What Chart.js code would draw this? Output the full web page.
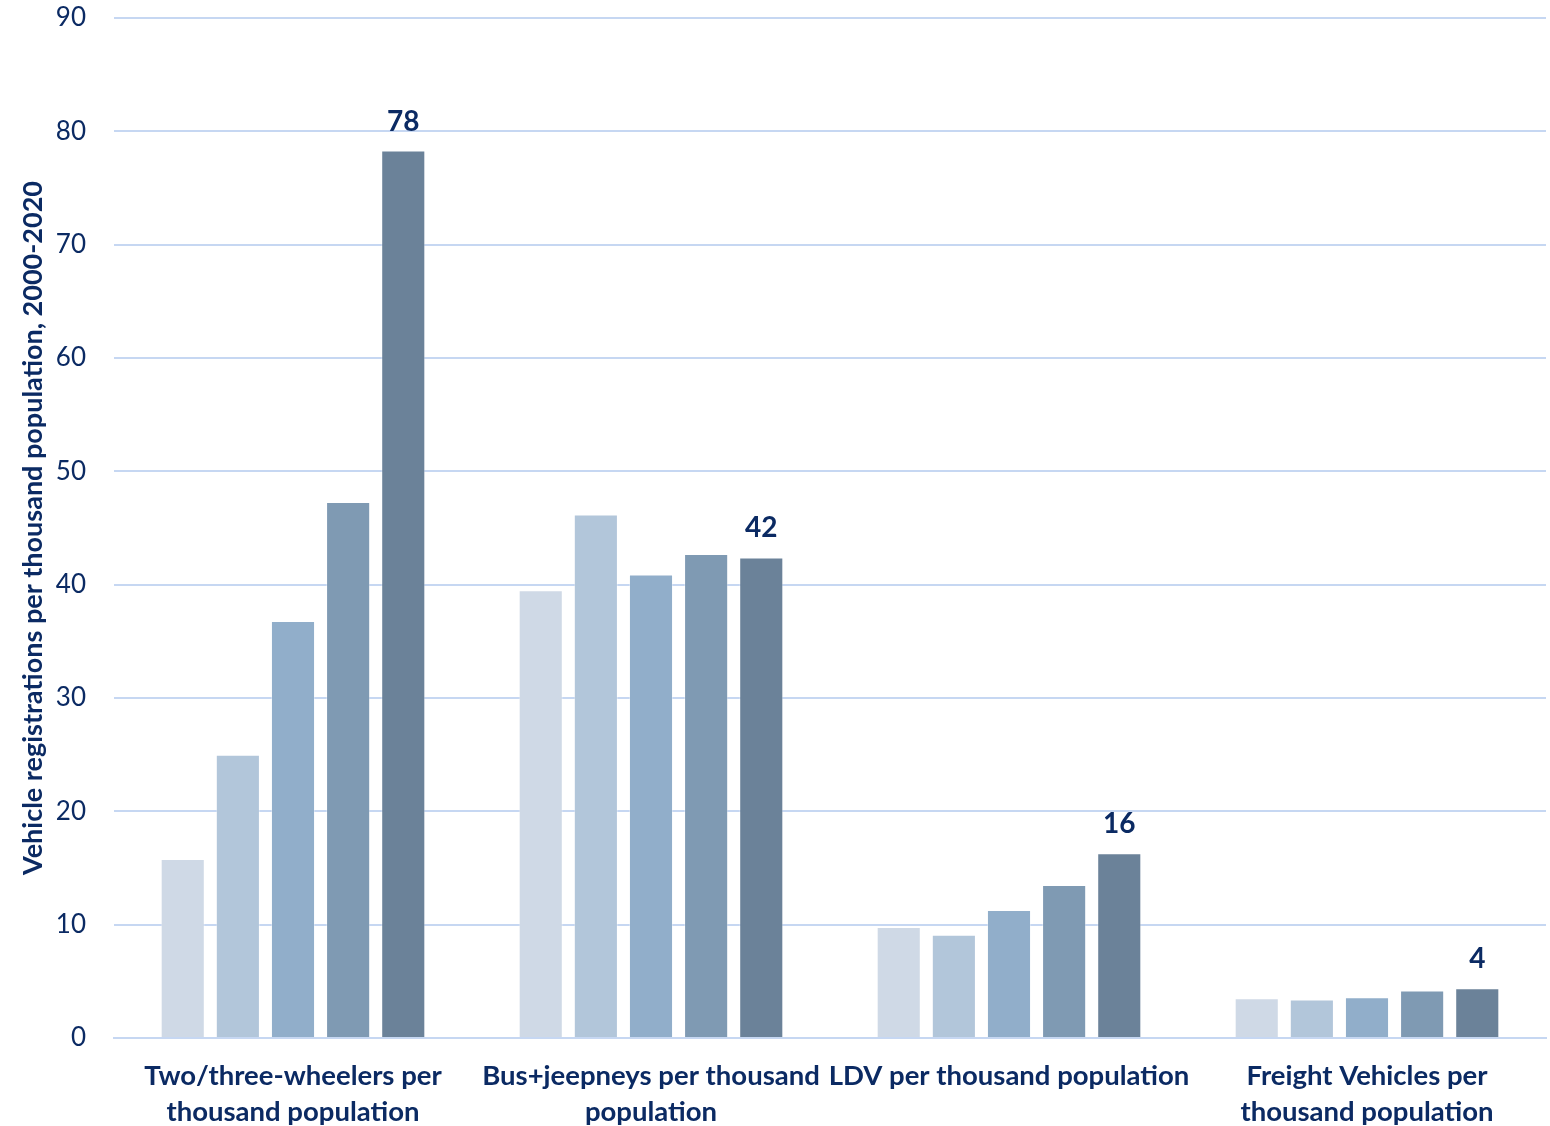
<!DOCTYPE html>
<html>
<head>
<meta charset="utf-8">
<title>Vehicle registrations per thousand population</title>
<script src="https://cdn.jsdelivr.net/npm/chart.js@4/dist/chart.umd.min.js"></script>
<style>
  html, body { margin: 0; padding: 0; background: #fff; }
  #wrap { width: 1550px; height: 1126px; }
</style>
</head>
<body>
<div id="wrap"><canvas id="regChart"></canvas></div>
<script>
const categories = [
  ["Two/three-wheelers per", "thousand population"],
  ["Bus+jeepneys per thousand", "population"],
  "LDV per thousand population",
  ["Freight Vehicles per", "thousand population"]
];
const years = ["2000", "2005", "2010", "2015", "2020"];
const v2000 = [15.8, 39.5, 9.8, 3.5];
const v2005 = [25.0, 46.2, 9.1, 3.4];
const v2010 = [36.8, 40.9, 11.3, 3.6];
const v2015 = [47.3, 42.7, 13.5, 4.2];
const v2020 = [78.3, 42.4, 16.3, 4.4];
const yTicks = [0, 10, 20, 30, 40, 50, 60, 70, 80, 90];

const navy = "#0b2a63";
const barColors = ["#cfd9e6", "#b2c6da", "#91aeca", "#7f9ab3", "#6b8299"];
const font = "Lato, 'Open Sans', sans-serif";

// value labels only over the latest year
const lastLabels = {
  id: "lastLabels",
  afterDatasetsDraw(chart) {
    const { ctx } = chart;
    const i = chart.data.datasets.length - 1;
    const meta = chart.getDatasetMeta(i);
    ctx.save();
    ctx.font = "bold 28px " + font;
    ctx.fillStyle = navy;
    ctx.textAlign = "center";
    ctx.textBaseline = "bottom";
    meta.data.forEach((bar, j) => {
      const v = chart.data.datasets[i].data[j];
      ctx.fillText(Math.round(v), bar.x, bar.y - 15);
    });
    ctx.restore();
  }
};

const series = [v2000, v2005, v2010, v2015, v2020];

new Chart(document.getElementById("regChart"), {
  type: "bar",
  data: {
    labels: categories,
    datasets: series.map((d, k) => ({
      label: years[k],
      data: d,
      backgroundColor: barColors[k],
      borderColor: "rgba(255,255,255,0.35)",
      borderWidth: 1,
      categoryPercentage: 0.77,
      barPercentage: 0.8
    }))
  },
  options: {
    responsive: true,
    maintainAspectRatio: false,
    animation: false,
    layout: { padding: { top: 18, right: 4, left: 4, bottom: 0 } },
    plugins: {
      legend: { display: false },
      tooltip: { enabled: false }
    },
    scales: {
      x: {
        afterFit: axis => { axis.height = 88; axis.paddingTop = 0; axis.paddingBottom = 0; },
        grid: { display: false, drawTicks: false },
        border: { display: true, color: "#c6d7f2", width: 2 },
        ticks: {
          color: navy,
          font: { family: font, size: 27.5, weight: "bold", lineHeight: 1.28 },
          padding: 21,
          maxRotation: 0,
          autoSkip: false
        }
      },
      y: {
        min: 0,
        max: 90,
        afterBuildTicks: axis => { axis.ticks = yTicks.map(v => ({ value: v })); },
        afterFit: axis => { axis.width = 110; axis.paddingTop = 0; axis.paddingBottom = 0; },
        grid: { color: "#c6d7f2", lineWidth: 2, drawTicks: false },
        border: { display: false },
        ticks: {
          color: navy,
          font: { family: font, size: 26 },
          padding: 28
        },
        title: {
          display: true,
          text: "Vehicle registrations per thousand population, 2000-2020",
          color: navy,
          font: { family: font, size: 27, weight: "bold", lineHeight: 1.2 },
          padding: { top: 13, bottom: 0 }
        }
      }
    }
  },
  plugins: [lastLabels]
});
</script>
</body>
</html>
